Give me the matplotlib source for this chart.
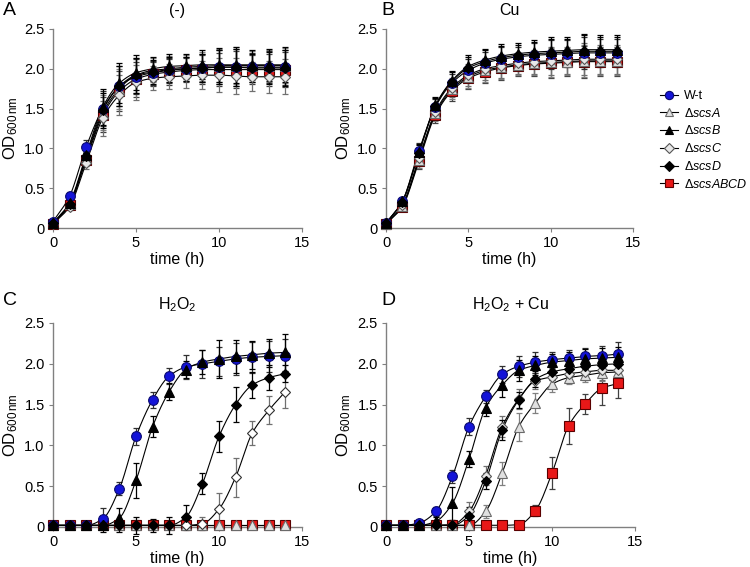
import numpy as np
import matplotlib
matplotlib.use("Agg")
import matplotlib.pyplot as plt
from matplotlib.lines import Line2D

plt.rcParams['font.family'] = ['Liberation Sans', 'DejaVu Sans']
plt.rcParams['mathtext.fontset'] = 'custom'
plt.rcParams['mathtext.rm'] = 'Liberation Sans'
plt.rcParams['mathtext.it'] = 'Liberation Sans:italic'

time_h = list(range(15))
strains = ["W-t", "scsA", "scsB", "scsC", "scsD", "scsABCD"]
panel_titles = ["(-)", "Cu", "H$_2$O$_2$", "H$_2$O$_2$ + Cu"]
panel_letters = ["A", "B", "C", "D"]

# Panel A: (-)
a_wt   = [0.08, 0.40, 1.02, 1.50, 1.78, 1.90, 1.95, 1.98, 2.00, 2.01, 2.02, 2.02, 2.02, 2.02, 2.02]
a_A    = [0.06, 0.30, 0.88, 1.45, 1.75, 1.92, 1.98, 2.00, 2.02, 2.03, 2.04, 2.04, 2.04, 2.04, 2.04]
a_B    = [0.06, 0.32, 0.92, 1.52, 1.82, 1.95, 2.00, 2.03, 2.04, 2.05, 2.05, 2.05, 2.05, 2.05, 2.05]
a_C    = [0.05, 0.27, 0.82, 1.38, 1.67, 1.83, 1.88, 1.90, 1.91, 1.92, 1.92, 1.91, 1.90, 1.90, 1.90]
a_D    = [0.06, 0.30, 0.90, 1.48, 1.78, 1.92, 1.96, 1.99, 2.00, 2.01, 2.02, 2.02, 2.01, 2.01, 2.01]
a_ABCD = [0.05, 0.29, 0.86, 1.42, 1.72, 1.87, 1.93, 1.96, 1.98, 1.99, 1.99, 1.99, 1.99, 1.99, 1.99]
a_err  = [0.02, 0.05, 0.08, 0.22, 0.25, 0.22, 0.15, 0.16, 0.15, 0.18, 0.21, 0.23, 0.18, 0.20, 0.22]

# Panel B: Cu
b_wt   = [0.06, 0.34, 0.97, 1.52, 1.82, 1.98, 2.07, 2.12, 2.15, 2.17, 2.18, 2.19, 2.20, 2.20, 2.20]
b_A    = [0.05, 0.28, 0.86, 1.44, 1.74, 1.90, 1.98, 2.02, 2.05, 2.07, 2.08, 2.09, 2.10, 2.10, 2.10]
b_B    = [0.06, 0.34, 0.95, 1.54, 1.85, 2.03, 2.11, 2.16, 2.19, 2.21, 2.22, 2.23, 2.24, 2.24, 2.24]
b_C    = [0.05, 0.29, 0.88, 1.46, 1.76, 1.92, 2.00, 2.04, 2.07, 2.09, 2.10, 2.11, 2.12, 2.12, 2.12]
b_D    = [0.06, 0.33, 0.94, 1.53, 1.84, 2.01, 2.09, 2.14, 2.17, 2.19, 2.20, 2.21, 2.22, 2.22, 2.22]
b_ABCD = [0.05, 0.27, 0.84, 1.42, 1.72, 1.88, 1.96, 2.01, 2.04, 2.06, 2.07, 2.08, 2.09, 2.09, 2.09]
b_err  = [0.02, 0.04, 0.10, 0.10, 0.12, 0.14, 0.14, 0.15, 0.13, 0.15, 0.18, 0.17, 0.20, 0.18, 0.18]

# Panel C: H2O2
c_wt   = [0.02, 0.02, 0.02, 0.10, 0.47, 1.11, 1.56, 1.85, 1.96, 2.00, 2.03, 2.06, 2.08, 2.09, 2.10]
c_A    = [0.02] * 15
c_B    = [0.02, 0.02, 0.02, 0.02, 0.11, 0.57, 1.23, 1.66, 1.93, 2.02, 2.06, 2.09, 2.11, 2.13, 2.14]
c_C    = [0.02, 0.02, 0.02, 0.02, 0.02, 0.02, 0.02, 0.02, 0.02, 0.04, 0.22, 0.61, 1.15, 1.43, 1.66]
c_D    = [0.02, 0.02, 0.02, 0.02, 0.02, 0.02, 0.02, 0.02, 0.12, 0.53, 1.11, 1.50, 1.74, 1.83, 1.88]
c_ABCD = [0.02] * 15
c_err_wt = [0.01, 0.01, 0.03, 0.13, 0.08, 0.10, 0.10, 0.10, 0.15, 0.17, 0.18, 0.20, 0.19, 0.19, 0.20]
c_err_B  = [0.01, 0.01, 0.03, 0.08, 0.12, 0.22, 0.13, 0.10, 0.10, 0.15, 0.23, 0.20, 0.17, 0.17, 0.23]
c_err_C  = [0.01, 0.01, 0.02, 0.03, 0.04, 0.06, 0.04, 0.05, 0.06, 0.08, 0.20, 0.24, 0.15, 0.17, 0.20]
c_err_D  = [0.01, 0.01, 0.02, 0.04, 0.08, 0.10, 0.08, 0.10, 0.15, 0.13, 0.19, 0.21, 0.16, 0.15, 0.10]
c_err_lo = [0.01, 0.01, 0.02, 0.03, 0.03, 0.04, 0.04, 0.05, 0.04, 0.04, 0.03, 0.03, 0.03, 0.03, 0.03]

# Panel D: H2O2 + Cu
d_wt   = [0.02, 0.02, 0.05, 0.19, 0.62, 1.23, 1.60, 1.87, 1.97, 2.02, 2.05, 2.07, 2.09, 2.10, 2.12]
d_A    = [0.02, 0.02, 0.02, 0.02, 0.02, 0.02, 0.19, 0.66, 1.23, 1.52, 1.75, 1.83, 1.86, 1.89, 1.90]
d_B    = [0.02, 0.02, 0.02, 0.07, 0.29, 0.83, 1.46, 1.74, 1.92, 1.98, 2.02, 2.04, 2.06, 2.07, 2.08]
d_C    = [0.02, 0.02, 0.02, 0.02, 0.03, 0.19, 0.63, 1.23, 1.57, 1.79, 1.84, 1.88, 1.90, 1.92, 1.92]
d_D    = [0.02, 0.02, 0.02, 0.02, 0.02, 0.14, 0.56, 1.19, 1.56, 1.81, 1.90, 1.94, 1.97, 1.99, 2.00]
d_ABCD = [0.02, 0.02, 0.02, 0.02, 0.02, 0.02, 0.02, 0.02, 0.03, 0.20, 0.66, 1.24, 1.51, 1.70, 1.76]
d_err_wt = [0.01, 0.01, 0.02, 0.06, 0.08, 0.10, 0.08, 0.10, 0.13, 0.13, 0.10, 0.10, 0.10, 0.12, 0.15]
d_err_A  = [0.01, 0.01, 0.01, 0.02, 0.03, 0.04, 0.08, 0.14, 0.17, 0.12, 0.10, 0.08, 0.08, 0.10, 0.12]
d_err_B  = [0.01, 0.01, 0.02, 0.05, 0.20, 0.10, 0.10, 0.15, 0.13, 0.12, 0.10, 0.10, 0.12, 0.12, 0.13]
d_err_C  = [0.01, 0.01, 0.01, 0.02, 0.05, 0.12, 0.12, 0.13, 0.12, 0.10, 0.10, 0.10, 0.10, 0.12, 0.12]
d_err_D  = [0.01, 0.01, 0.01, 0.02, 0.04, 0.10, 0.10, 0.12, 0.10, 0.10, 0.10, 0.10, 0.10, 0.10, 0.10]
d_err_ABCD = [0.01, 0.01, 0.01, 0.01, 0.01, 0.02, 0.02, 0.03, 0.04, 0.07, 0.20, 0.22, 0.12, 0.20, 0.18]

panels = [
    [a_wt, a_A, a_B, a_C, a_D, a_ABCD],
    [b_wt, b_A, b_B, b_C, b_D, b_ABCD],
    [c_wt, c_A, c_B, c_C, c_D, c_ABCD],
    [d_wt, d_A, d_B, d_C, d_D, d_ABCD],
]
errors = [
    [a_err] * 6,
    [b_err] * 6,
    [c_err_wt, c_err_lo, c_err_B, c_err_C, c_err_D, c_err_lo],
    [d_err_wt, d_err_A, d_err_B, d_err_C, d_err_D, d_err_ABCD],
]

styles = [
    dict(marker='o', mfc='#1414d8', mec='#0a0a70', ms=7, ecol='#303030'),
    dict(marker='^', mfc='#e0e0e0', mec='#6a6a6a', ms=7, ecol='#808080'),
    dict(marker='^', mfc='#000000', mec='#000000', ms=7, ecol='#000000'),
    dict(marker='D', mfc='#e8e8e8', mec='#555555', ms=5.5, ecol='#707070'),
    dict(marker='D', mfc='#000000', mec='#000000', ms=5.5, ecol='#000000'),
    dict(marker='s', mfc='#e81818', mec='#5a0000', ms=6.5, ecol='#404040'),
]
draw_order = [5, 1, 3, 0, 4, 2]


def smooth(x, y, n=20):
    # monotone cubic Hermite curve through the data points (rendering only)
    x = np.asarray(x, float)
    y = np.asarray(y, float)
    h = np.diff(x)
    d = np.diff(y) / h
    m = np.zeros_like(y)
    m[0], m[-1] = d[0], d[-1]
    for i in range(1, len(y) - 1):
        if d[i - 1] * d[i] <= 0:
            m[i] = 0.0
        else:
            w1 = 2 * h[i] + h[i - 1]
            w2 = h[i] + 2 * h[i - 1]
            m[i] = (w1 + w2) / (w1 / d[i - 1] + w2 / d[i])
    xs, ys = [], []
    for i in range(len(x) - 1):
        t = np.linspace(0, 1, n, endpoint=False)
        h00 = 2 * t**3 - 3 * t**2 + 1
        h10 = t**3 - 2 * t**2 + t
        h01 = -2 * t**3 + 3 * t**2
        h11 = t**3 - t**2
        xs.append(x[i] + t * h[i])
        ys.append(h00 * y[i] + h10 * h[i] * m[i] + h01 * y[i + 1] + h11 * h[i] * m[i + 1])
    xs.append([x[-1]])
    ys.append([y[-1]])
    return np.concatenate(xs), np.concatenate(ys)


W, H = 750, 567
fig = plt.figure(figsize=(W / 100, H / 100), dpi=100)
boxes = [(53, 302, 29, 228), (386, 633, 29, 228), (53, 302, 323, 527), (386, 635, 323, 527)]
letter_pos = [(3, 2), (381, 2), (3, 292), (381, 292)]

for k in range(4):
    x0, x1, yt, yb = boxes[k]
    ax = fig.add_axes([x0 / W, 1 - yb / H, (x1 - x0) / W, (yb - yt) / H])
    for rank, s in enumerate(draw_order):
        y = panels[k][s]
        e = errors[k][s]
        st = dict(styles[s])
        if k == 2 and s == 3:
            st['mfc'] = '#ffffff'
            st['mec'] = '#303030'
        zb = rank * 0.1
        ax.errorbar(time_h, y, yerr=e, fmt='none', ecolor=st['ecol'], elinewidth=0.9,
                    capsize=2.2, capthick=0.9, zorder=2 + zb, clip_on=False)
        xs, ys = smooth(time_h, y)
        ax.plot(xs, ys, color='black', lw=0.8, zorder=3 + zb, clip_on=False)
        ax.plot(time_h, y, linestyle='none', marker=st['marker'], mfc=st['mfc'], mec=st['mec'],
                ms=st['ms'], mew=0.8, zorder=4 + zb, clip_on=False)
    ax.set_xlim(0, 15)
    ax.set_ylim(0, 2.5)
    ax.set_xticks([0, 5, 10, 15])
    ax.set_yticks([0, 0.5, 1.0, 1.5, 2.0, 2.5])
    ax.set_yticklabels(['0', '0.5', '1.0', '1.5', '2.0', '2.5'])
    for sp in ['top', 'right']:
        ax.spines[sp].set_visible(False)
    for sp in ['left', 'bottom']:
        ax.spines[sp].set_color('#808080')
        ax.spines[sp].set_linewidth(1.0)
    ax.tick_params(direction='out', length=3, width=0.8, color='#808080', labelsize=10.5, pad=3)
    ax.set_xlabel('time (h)', fontsize=11.5, labelpad=1)
    ax.set_ylabel(r'OD$_{600\,\mathrm{nm}}$', fontsize=12, labelpad=3)
    ax.set_title(panel_titles[k], fontsize=11.5, pad=10)
    lx, ly = letter_pos[k]
    fig.text(lx / W, 1 - ly / H, panel_letters[k], fontsize=14, va='top', ha='left')

handles = []
labels = []
for s in range(6):
    st = styles[s]
    handles.append(Line2D([0], [0], color='black', lw=0.8, marker=st['marker'], mfc=st['mfc'],
                          mec=st['mec'], ms=st['ms'] * 0.85, mew=0.8))
    labels.append('W-t' if s == 0 else r'$\Delta\mathit{' + strains[s] + '}$')
fig.legend(handles, labels, loc='upper left', bbox_to_anchor=(655 / W, 1 - 85 / H), frameon=False,
           fontsize=9, handlelength=1.4, handletextpad=0.5, labelspacing=0.38, borderaxespad=0)

fig.savefig('out.png', dpi=100)
